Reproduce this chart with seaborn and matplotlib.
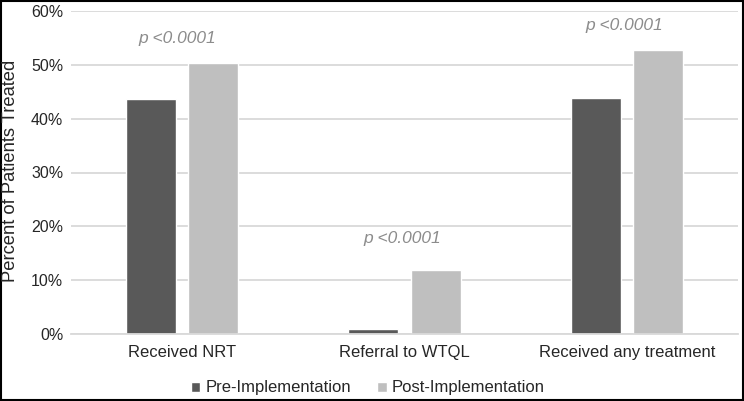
import matplotlib
matplotlib.use("Agg")
import matplotlib.pyplot as plt
import seaborn as sns
import pandas as pd
from matplotlib.ticker import PercentFormatter

categories = ["Received NRT", "Referral to WTQL", "Received any treatment"]
groups = ["Pre-Implementation", "Post-Implementation"]
pre_values = [43.7, 0.9, 43.9]
post_values = [50.4, 11.9, 52.8]
p_labels = ["p <0.0001", "p <0.0001", "p <0.0001"]

df = pd.DataFrame({
    "category": categories * 2,
    "group": [groups[0]] * 3 + [groups[1]] * 3,
    "value": pre_values + post_values,
})

sns.set_theme(style="white")
plt.rcParams['font.family'] = ['Liberation Sans', 'DejaVu Sans']

W, H = 744, 401
fig = plt.figure(figsize=(W / 100, H / 100), dpi=100)
ax = fig.add_axes([71 / W, 1 - 334 / H, 667 / W, 323 / H])

sns.barplot(data=df, x="category", y="value", hue="group", order=categories,
            hue_order=groups, palette=["#595959", "#bfbfbf"], width=0.558, gap=0.194,
            ax=ax, legend=True)

ax.set_xlim(-0.5, 2.5)
ax.set_ylim(0, 60)
ax.set_yticks(range(0, 61, 10))
ax.yaxis.set_major_formatter(PercentFormatter(decimals=0))
ax.yaxis.grid(True, color="#d9d9d9", linewidth=1.3)
ax.set_axisbelow(True)
for s in ["top", "right", "left"]:
    ax.spines[s].set_visible(False)
ax.spines["bottom"].set_color("#d9d9d9")
ax.spines["bottom"].set_linewidth(1.3)
ax.tick_params(axis="both", length=0, labelsize=12, colors="#262626")
ax.tick_params(axis="y", pad=5.5, labelsize=11.5)
ax.tick_params(axis="x", pad=8)
ax.set_xlabel("")
ax.set_ylabel("")
fig.text(11 / W, 1 - 171 / H, "Percent of Patients Treated", rotation=90,
         ha="center", va="center", fontsize=13.2, color="#262626")

# p-value annotations above each post bar (offsets from category centres)
p_dx = [-0.02, -0.01, -0.01]
p_y = [54.1, 16.9, 56.5]
for i, (dx, y, lab) in enumerate(zip(p_dx, p_y, p_labels)):
    ax.text(i + dx, y, lab, ha="center", va="baseline", fontsize=12.5,
            style="italic", color="#8c8c8c")

handles, labels = ax.get_legend_handles_labels()
ax.legend(handles, labels, loc="center", bbox_to_anchor=(0.445, -0.167), ncol=2,
          frameon=False, fontsize=12, handlelength=0.55, handleheight=0.55,
          columnspacing=1.6, handletextpad=0.3, labelcolor="#262626")

border = plt.Rectangle((0.001, 0.002), 0.997, 0.996, transform=fig.transFigure,
                       fill=False, edgecolor="black", linewidth=1.5)
fig.patches.append(border)

fig.savefig("out.png", dpi=100)
